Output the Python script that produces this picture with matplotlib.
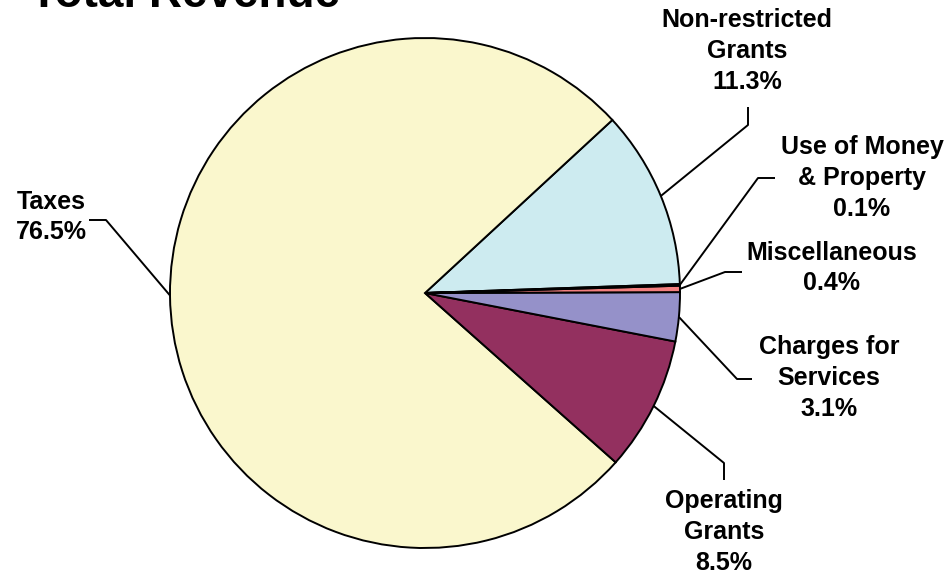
import matplotlib.pyplot as plt
import numpy as np

# данные
labels = ['Non-restricted\nGrants', 'Taxes', 'Operating\nGrants',
          'Charges for\nServices', 'Miscellaneous', 'Use of Money\n& Property']
shares = [11.3, 76.5, 8.5, 3.1, 0.4, 0.1]
colors = ['#cdebf0', '#faf7cd', '#93305f', '#9591c9', '#f37f7f', '#333333']

# положение подписей (в пикселях, y сверху вниз): локоть, конец линии, центр текста
elbows = [(748, 125), (106, 220), (724, 463), (737, 379), (725, 272), (758, 178)]
ends = [(748, 107), (89, 220), (724, 480), (752, 379), (742, 272), (775, 178)]
text_pos = [(747, 51), (51, 217), (724, 532), (829, 378), (832, 268), (862, 178)]

W, H = 950, 579
fig = plt.figure(figsize=(9.5, 5.79), dpi=100)
ax = fig.add_axes([0, 0, 1, 1])

cx, cy, r = 425, H - 293, 255
wedges, _ = ax.pie(shares, colors=colors, startangle=2, counterclock=True,
                   radius=r, center=(cx, cy),
                   wedgeprops=dict(edgecolor='black', linewidth=1.4))
ax.set_xlim(0, W)
ax.set_ylim(0, H)
ax.set_aspect('equal')
ax.axis('off')

font = 'Liberation Sans'
for i, w in enumerate(wedges):
    mid = np.deg2rad((w.theta1 + w.theta2) / 2)
    x0 = cx + r * np.cos(mid)
    y0 = cy + r * np.sin(mid)
    ex, ey = elbows[i]
    fx, fy = ends[i]
    ax.plot([x0, ex, fx], [y0, H - ey, H - fy], color='black', lw=1.4,
            solid_capstyle='butt')
    txt = labels[i] + '\n' + f'{shares[i]:.1f}%'
    tx, ty = text_pos[i]
    ax.text(tx, H - ty, txt, ha='center', va='center', fontsize=18,
            fontweight='bold', family=font, linespacing=1.35)

ax.text(30, H - 7, 'Total Revenue', fontsize=33, fontweight='bold',
        family=font, ha='left', va='baseline')

fig.savefig('out.png', dpi=100)
